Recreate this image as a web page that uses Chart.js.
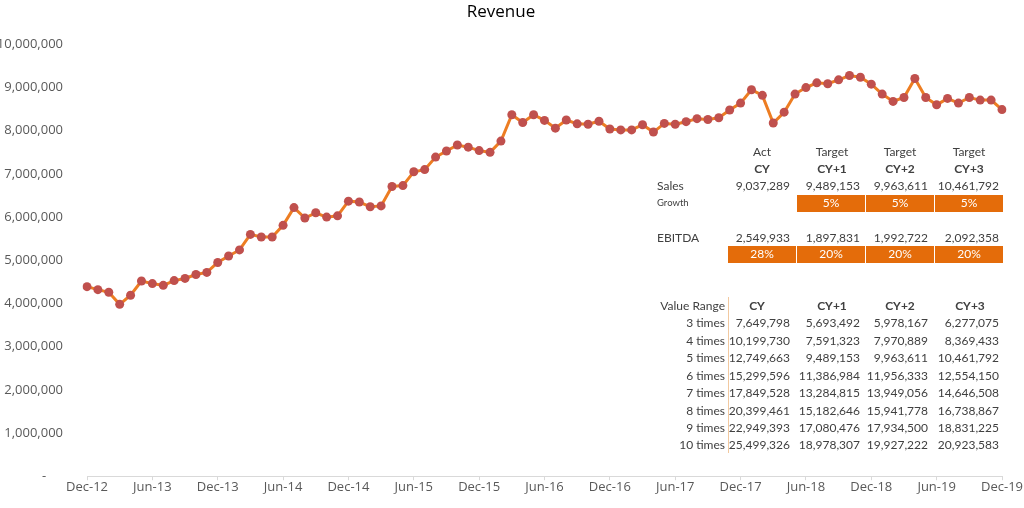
<!DOCTYPE html>
<html>
<head>
<meta charset="utf-8">
<script src="https://cdn.jsdelivr.net/npm/chart.js@4/dist/chart.umd.min.js"></script>
<style>
  html, body { margin: 0; padding: 0; background: #fff; }
  #wrap { width: 1024px; height: 508px; position: relative; }
</style>
</head>
<body>
<div id="wrap"><canvas id="graphique-revenu" width="1024" height="508"></canvas></div>
<script>
// months Dec-12 .. Dec-19
const moisNoms = ["Jan", "Feb", "Mar", "Apr", "May", "Jun", "Jul", "Aug", "Sep", "Oct", "Nov", "Dec"];
const mois = [];
for (let i = 0; i < 85; i++) {
    const m = (11 + i) % 12;
    const an = 12 + Math.floor((11 + i) / 12);
    mois.push(moisNoms[m] + "-" + an);
}

const revenu = [
    4390000, 4320000, 4260000, 3980000, 4190000, 4520000, 4460000, 4420000, 4530000, 4580000,
    4670000, 4720000, 4950000, 5100000, 5240000, 5600000, 5540000, 5540000, 5810000, 6220000,
    5980000, 6100000, 6000000, 6030000, 6370000, 6350000, 6240000, 6260000, 6710000, 6730000,
    7050000, 7100000, 7390000, 7530000, 7670000, 7620000, 7540000, 7500000, 7760000, 8370000,
    8190000, 8370000, 8240000, 8060000, 8250000, 8160000, 8150000, 8220000, 8040000, 8020000,
    8020000, 8140000, 7970000, 8170000, 8150000, 8210000, 8280000, 8260000, 8300000, 8480000,
    8640000, 8950000, 8820000, 8180000, 8430000, 8850000, 9000000, 9110000, 9090000, 9180000,
    9280000, 9240000, 9080000, 8850000, 8680000, 8770000, 9210000, 8770000, 8600000, 8750000,
    8640000, 8770000, 8710000, 8710000, 8490000
];

// tableau de droite
const entetes = ["Act", "Target", "Target", "Target"];
const colonnes = ["CY", "CY+1", "CY+2", "CY+3"];
const ventes = ["9,037,289", "9,489,153", "9,963,611", "10,461,792"];
const croissance = ["", "5%", "5%", "5%"];
const ebitda = ["2,549,933", "1,897,831", "1,992,722", "2,092,358"];
const margeEbitda = ["28%", "20%", "20%", "20%"];
const multiples = ["3 times", "4 times", "5 times", "6 times", "7 times", "8 times", "9 times", "10 times"];
const valeursCY = ["7,649,798", "10,199,730", "12,749,663", "15,299,596", "17,849,528", "20,399,461", "22,949,393", "25,499,326"];
const valeursCY1 = ["5,693,492", "7,591,323", "9,489,153", "11,386,984", "13,284,815", "15,182,646", "17,080,476", "18,978,307"];
const valeursCY2 = ["5,978,167", "7,970,889", "9,963,611", "11,956,333", "13,949,056", "15,941,778", "17,934,500", "19,927,222"];
const valeursCY3 = ["6,277,075", "8,369,433", "10,461,792", "12,554,150", "14,646,508", "16,738,867", "18,831,225", "20,923,583"];

const orange = "#E46C0A";
const texteGris = "#404040";
const policeTableau = "Lato, 'Open Sans', sans-serif";

function ecrire(ctx, txt, x, y, align, taille, gras, couleur) {
    ctx.font = (gras ? "bold " : "") + taille + "px " + policeTableau;
    ctx.textAlign = align;
    ctx.textBaseline = "middle";
    ctx.fillStyle = couleur || texteGris;
    ctx.fillText(txt, x, y);
}

const pluginTableau = {
    id: "tableau",
    afterDraw(chart) {
        const ctx = chart.ctx;
        ctx.save();
        const centres = [762, 832, 900, 969];
        const droites = [790, 860, 928, 999];
        const cellules = [[728, 796], [797, 865], [866, 934], [935, 1003]];

        entetes.forEach((t, i) => ecrire(ctx, t, centres[i], 152, "center", 12, false));
        colonnes.forEach((t, i) => ecrire(ctx, t, centres[i], 169, "center", 12, true));

        ecrire(ctx, "Sales", 657, 186, "left", 12, false);
        ventes.forEach((t, i) => ecrire(ctx, t, droites[i], 186, "right", 12, false));

        ecrire(ctx, "Growth", 657, 203, "left", 9.5, false);
        croissance.forEach((t, i) => {
            if (!t) return;
            const c = cellules[i];
            ctx.fillStyle = orange;
            ctx.fillRect(c[0], 195, c[1] - c[0], 17);
            ecrire(ctx, t, (c[0] + c[1]) / 2, 203.5, "center", 12, false, "#ffffff");
        });

        ecrire(ctx, "EBITDA", 657, 238, "left", 12, false);
        ebitda.forEach((t, i) => ecrire(ctx, t, droites[i], 238, "right", 12, false));
        margeEbitda.forEach((t, i) => {
            const c = cellules[i];
            ctx.fillStyle = orange;
            ctx.fillRect(c[0], 246, c[1] - c[0], 17);
            ecrire(ctx, t, (c[0] + c[1]) / 2, 254.5, "center", 12, false, "#ffffff");
        });

        // Value Range
        ctx.strokeStyle = "#F2C9A0";
        ctx.lineWidth = 1;
        ctx.beginPath();
        ctx.moveTo(728.5, 297);
        ctx.lineTo(728.5, 453);
        ctx.stroke();

        ecrire(ctx, "Value Range", 725, 306, "right", 12, false);
        const centresVR = [757, 832, 900, 970];
        colonnes.forEach((t, i) => ecrire(ctx, t, centresVR[i], 306, "center", 12, true));
        const lignesY = [323.5, 341, 358.5, 376, 393.5, 411, 428, 445];
        const colonnesVR = [valeursCY, valeursCY1, valeursCY2, valeursCY3];
        multiples.forEach((t, r) => {
            ecrire(ctx, t, 725, lignesY[r], "right", 12, false);
            colonnesVR.forEach((col, i) => ecrire(ctx, col[r], droites[i], lignesY[r], "right", 12, false));
        });
        ctx.restore();
    }
};

const config = {
    type: "line",
    data: {
        labels: mois,
        datasets: [{
            label: "Revenue",
            data: revenu,
            borderColor: "#ED7D22",
            borderWidth: 3,
            pointBackgroundColor: "#C0504D",
            pointBorderColor: "#C0504D",
            pointRadius: 4.5,
            pointBorderWidth: 0,
            tension: 0,
        }]
    },
    options: {
        responsive: false,
        animation: false,
        devicePixelRatio: 1,
        layout: { padding: { top: 0, right: 22, bottom: 7, left: 0 } },
        plugins: {
            legend: { display: false },
            tooltip: { enabled: false },
            title: {
                display: true,
                text: "Revenue",
                color: "#000000",
                font: { family: "'Open Sans', sans-serif", size: 17, weight: "normal" },
                padding: { top: 2, bottom: 22 }
            }
        },
        scales: {
            x: {
                type: "category",
                offset: false,
                grid: { display: true, drawOnChartArea: false, drawTicks: true, tickLength: 4, color: "#D9D9D9" },
                border: { display: true, color: "#D9D9D9", width: 1 },
                ticks: {
                    autoSkip: false,
                    maxRotation: 0,
                    padding: -1,
                    color: "#595959",
                    font: { family: "'Open Sans', sans-serif", size: 13 },
                    callback: (val, i) => i % 6 === 0 ? mois[i] : null
                }
            },
            y: {
                min: 0,
                max: 10000000,
                grid: { display: false, drawTicks: false },
                border: { display: false },
                afterFit: scale => { scale.width = 87; },
                ticks: {
                    stepSize: 1000000,
                    padding: 24,
                    color: "#595959",
                    font: { family: "'Open Sans', sans-serif", size: 13 },
                    callback: v => v === 0 ? "-     " : v.toLocaleString("en-US")
                }
            }
        }
    },
    plugins: [pluginTableau]
};

new Chart(document.querySelector("#graphique-revenu").getContext("2d"), config);
</script>
</body>
</html>
